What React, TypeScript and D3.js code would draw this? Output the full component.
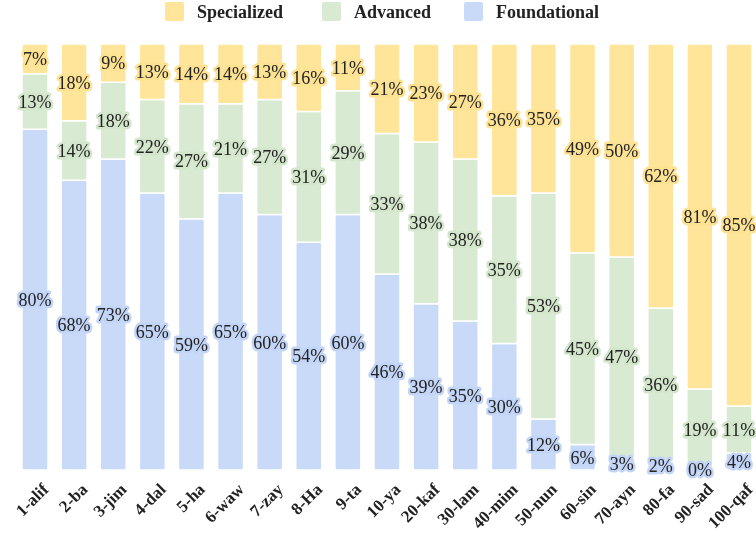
import React, { useEffect, useRef } from "react";
import * as d3 from "d3";

const categories = [
  "1-alif", "2-ba", "3-jim", "4-dal", "5-ha", "6-waw", "7-zay", "8-Ha", "9-ta", "10-ya",
  "20-kaf", "30-lam", "40-mim", "50-nun", "60-sin", "70-ayn", "80-fa", "90-sad", "100-qaf",
];
const foundational = [80, 68, 73, 65, 59, 65, 60, 54, 60, 46, 39, 35, 30, 12, 6, 3, 2, 0, 4];
const advanced = [13, 14, 18, 22, 27, 21, 27, 31, 29, 33, 38, 38, 35, 53, 45, 47, 36, 19, 11];
const specialized = [7, 18, 9, 13, 14, 14, 13, 16, 11, 21, 23, 27, 36, 35, 49, 50, 62, 81, 85];

const seriesKeys = ["Foundational", "Advanced", "Specialized"];
const legendOrder = ["Specialized", "Advanced", "Foundational"];
const colors: Record<string, string> = {
  Foundational: "#c9daf8",
  Advanced: "#d9ead3",
  Specialized: "#ffe599",
};
const haloColors: Record<string, string> = {
  Foundational: "#c3d5f6",
  Advanced: "#d3e6cc",
  Specialized: "#fde293",
};

const W = 756;
const H = 536;
const FONT = "'Liberation Serif', 'Times New Roman', serif";

const App: React.FC = () => {
  const svgRef = useRef(null);

  useEffect(() => {
    const svg = d3.select(svgRef.current).attr("width", W).attr("height", H);

    const rows = categories.map((c, i) => ({
      cat: c,
      Foundational: foundational[i],
      Advanced: advanced[i],
      Specialized: specialized[i],
    }));

    // every bar is shown as a share of 100%
    const series = d3.stack<any>().keys(seriesKeys).offset(d3.stackOffsetExpand)(rows);

    const x = d3
      .scaleBand()
      .domain(categories)
      .range([22, 752])
      .paddingInner(0.335)
      .paddingOuter(0);

    const y = d3.scaleLinear().domain([0, 1]).range([470, 44]);

    svg
      .selectAll("g.series")
      .data(series)
      .enter()
      .append("g")
      .attr("class", "series")
      .attr("fill", (d) => colors[d.key])
      .selectAll("rect")
      .data((d) => d)
      .enter()
      .append("rect")
      .attr("x", (d: any) => x(d.data.cat) as number)
      .attr("y", (d) => y(d[1]))
      .attr("width", x.bandwidth())
      .attr("height", (d) => Math.max(0, y(d[0]) - y(d[1])))
      .attr("rx", 2)
      .attr("stroke", "#fff")
      .attr("stroke-width", 1.5);

    // value labels with a halo in the segment colour
    series.forEach((s) => {
      svg
        .append("g")
        .selectAll("text")
        .data(s)
        .enter()
        .append("text")
        .attr("x", (d: any) => (x(d.data.cat) as number) + x.bandwidth() / 2)
        .attr("y", (d) => (y(d[0]) + y(d[1])) / 2)
        .attr("dy", "0.35em")
        .attr("text-anchor", "middle")
        .style("font-family", FONT)
        .style("font-size", "18px")
        .attr("fill", "#222")
        .attr("stroke", haloColors[s.key])
        .attr("stroke-width", 5)
        .attr("stroke-linejoin", "round")
        .style("paint-order", "stroke")
        .text((d: any) => d.data[s.key] + "%");
    });

    // x labels, rotated
    svg
      .append("g")
      .selectAll("text")
      .data(categories)
      .enter()
      .append("text")
      .attr(
        "transform",
        (d) => `translate(${(x(d) as number) + x.bandwidth() / 2 + 6}, 482) rotate(-45)`
      )
      .attr("text-anchor", "end")
      .attr("dy", "0.7em")
      .style("font-family", FONT)
      .style("font-size", "17px")
      .style("font-weight", "bold")
      .attr("fill", "#222")
      .text((d) => d);

    // legend
    const legendX: Record<string, number> = { Specialized: 165, Advanced: 322, Foundational: 464 };
    const legend = svg
      .append("g")
      .selectAll("g")
      .data(legendOrder)
      .enter()
      .append("g")
      .attr("transform", (d) => `translate(${legendX[d]}, 2)`);
    legend
      .append("rect")
      .attr("width", 19)
      .attr("height", 19)
      .attr("rx", 2)
      .attr("fill", (d) => colors[d]);
    legend
      .append("text")
      .attr("x", 32)
      .attr("y", 16)
      .style("font-family", FONT)
      .style("font-size", "18px")
      .style("font-weight", "bold")
      .attr("fill", "#222")
      .text((d) => d);

    return () => {
      svg.selectAll("*").remove();
    };
  }, []);

  return (
    <div style={{ position: "fixed", left: 0, top: 0 }}>
      <svg ref={svgRef} style={{ display: "block" }} />
    </div>
  );
};

export default App;
